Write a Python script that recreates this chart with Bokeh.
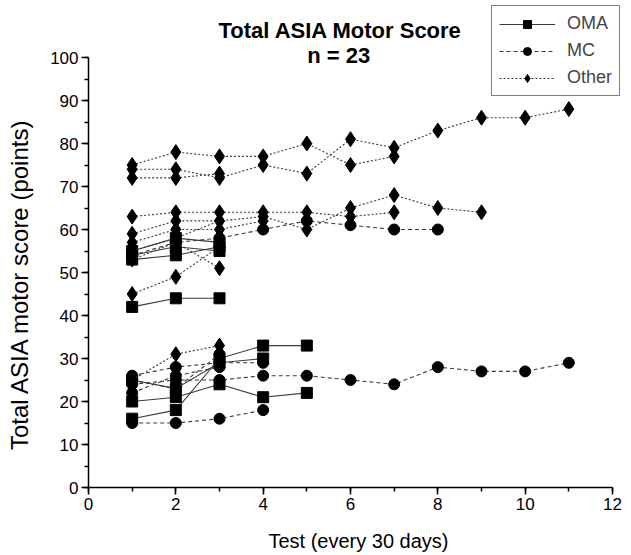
from bokeh.plotting import figure
from bokeh.models import Range1d, SingleIntervalTicker, Label, Legend, LegendItem
from bokeh.embed import file_html
from bokeh.resources import INLINE

# ---- data (Total ASIA motor score per test, each series starts at test 1) ----
oma_1 = [55, 58, 57]
oma_2 = [54, 56, 55]
oma_3 = [53, 54, 56]
oma_4 = [42, 44, 44]
oma_5 = [20, 21, 24, 21, 22]
oma_6 = [16, 18, 30, 33, 33]
oma_7 = [25, 23, 29, 30]

mc_1 = [54, 57, 58, 60, 62, 61, 60, 60]
mc_2 = [24, 25, 25, 26, 26, 25, 24, 28, 27, 27, 29]
mc_3 = [15, 15, 16, 18]
mc_4 = [26, 28, 29, 29]
mc_5 = [22, 26, 28]
mc_6 = [25, 23, 31]

oth_1 = [75, 78, 77, 77, 80, 75, 77]
oth_2 = [74, 74, 72, 75, 73, 81, 79, 83, 86, 86, 88]
oth_3 = [72, 72, 73]
oth_4 = [63, 64, 64, 64, 64, 63, 64]
oth_5 = [59, 62, 62, 63, 60, 65, 68, 65, 64]
oth_6 = [57, 60, 60, 62]
oth_7 = [55, 58, 62]
oth_8 = [53, 57, 51]
oth_9 = [45, 49, 56]
oth_10 = [25, 31, 33]

x_ticks_max = 12
y_ticks_max = 100

groups = [
    ("OMA", [oma_1, oma_2, oma_3, oma_4, oma_5, oma_6, oma_7], "square", None, 11),
    ("MC", [mc_1, mc_2, mc_3, mc_4, mc_5, mc_6], "circle", "4 3", 11),
    ("Other", [oth_1, oth_2, oth_3, oth_4, oth_5, oth_6, oth_7, oth_8, oth_9, oth_10], "diamond", "2 2", 15),
]

FONT = "Liberation Sans"

W, H = 628, 555
LEFT, BOTTOM = 88, 68
px_per_x = 524 / 12.0
px_per_y = 430 / 100.0
x_end = (W - LEFT) / px_per_x
y_end = (H - BOTTOM) / px_per_y

p = figure(width=W, height=H, output_backend="svg", toolbar_location=None,
           x_range=Range1d(0, x_end), y_range=Range1d(0, y_end),
           min_border_left=LEFT, min_border_right=0, min_border_top=0, min_border_bottom=BOTTOM)
p.outline_line_color = None
p.xgrid.visible = False
p.ygrid.visible = False
p.background_fill_color = "white"

items = []
for name, series, marker, dash, msize in groups:
    first = None
    for s in series:
        xs = list(range(1, len(s) + 1))
        if dash is None:
            ln = p.line(xs, s, line_color="#3a3a3a", line_width=1.1)
        else:
            ln = p.line(xs, s, line_color="#3a3a3a", line_width=1.1, line_dash=dash)
        sc = p.scatter(xs, s, marker=marker, size=msize, fill_color="black", line_color="black")
        if first is None:
            first = [ln, sc]
    items.append(LegendItem(label=name, renderers=first))

legend = Legend(items=items, location=(403, 391), orientation="vertical",
                border_line_color="black", border_line_width=1, background_fill_color="white",
                background_fill_alpha=1.0, label_text_font=FONT, label_text_font_size="18px",
                glyph_width=56, glyph_height=20, label_standoff=12, spacing=6,
                padding=7, margin=0)
p.add_layout(legend, "center")

for ax in (p.xaxis[0], p.yaxis[0]):
    ax.axis_line_width = 1.5
    ax.axis_line_color = "black"
    ax.major_tick_line_color = "black"
    ax.minor_tick_line_color = "black"
    ax.major_tick_line_width = 1.5
    ax.minor_tick_line_width = 1.5
    ax.major_tick_in = 0
    ax.major_tick_out = 7
    ax.minor_tick_in = 0
    ax.minor_tick_out = 4
    ax.major_label_text_font = FONT
    ax.major_label_text_font_size = "17px"
    ax.major_label_text_color = "black"
    ax.axis_label_text_font = FONT
    ax.axis_label_text_font_style = "normal"
    ax.axis_label_text_color = "black"

p.xaxis.bounds = (0, x_ticks_max)
p.yaxis.bounds = (0, y_ticks_max)
p.xaxis.ticker = SingleIntervalTicker(interval=2, num_minor_ticks=2)
p.yaxis.ticker = SingleIntervalTicker(interval=10, num_minor_ticks=2)
p.xaxis.axis_label = "Test (every 30 days)"
# trailing no-break spaces re-centre the label on the 0-100 axis span (frame reaches the top)
p.yaxis.axis_label = "Total ASIA motor score (points)" + "\u00a0" * 12
p.xaxis.axis_label_text_font_size = "20px"
p.yaxis.axis_label_text_font_size = "24px"
p.xaxis.major_label_standoff = 3
p.yaxis.major_label_standoff = 3
p.xaxis.axis_label_standoff = 17
p.yaxis.axis_label_standoff = 14

p.add_layout(Label(x=5.77, y=106.3, text="Total ASIA Motor Score", text_align="center",
                   text_baseline="middle", text_font=FONT, text_font_size="22px",
                   text_font_style="bold", text_color="black"))
p.add_layout(Label(x=5.73, y=100.5, text="n = 23", text_align="center",
                   text_baseline="middle", text_font=FONT, text_font_size="22px",
                   text_font_style="bold", text_color="black"))

open("out.html", "w").write(file_html(p, INLINE))
